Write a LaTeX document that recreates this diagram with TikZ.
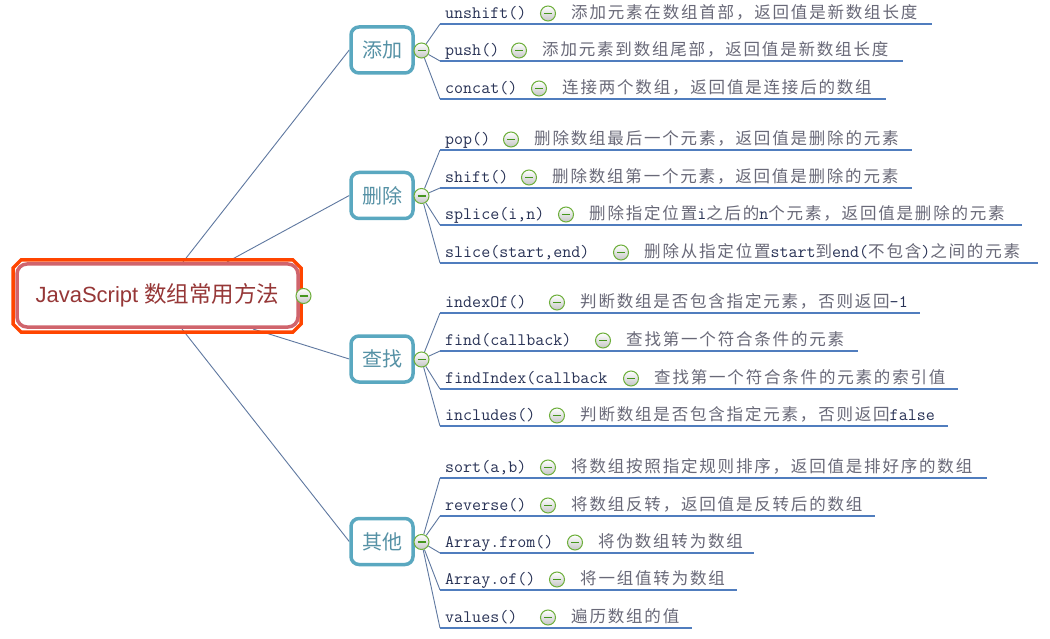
\documentclass[tikz,border=0pt]{standalone}
\usepackage{fontspec}
\setsansfont{Liberation Sans}
\newfontfamily\cjk[LetterSpace=11]{Noto Sans CJK SC}
\newfontfamily\cjkb{Noto Sans CJK SC}
\pgfdeclarelayer{background}
\pgfsetlayers{background,main}
\definecolor{methodcol}{RGB}{40,50,85}
\definecolor{desccol}{RGB}{105,105,120}
\definecolor{ulcol}{RGB}{80,125,190}
\definecolor{conncol}{RGB}{95,120,160}
\definecolor{branchcol}{RGB}{90,168,192}
\definecolor{branchtext}{RGB}{85,145,165}
\definecolor{rootred}{RGB}{208,100,108}
\definecolor{rootorange}{RGB}{255,69,0}
\definecolor{roottext}{RGB}{150,55,55}
\definecolor{dotgreen}{RGB}{110,175,60}
\definecolor{bargreen}{RGB}{70,150,30}
\newcommand\lat[1]{{\color{methodcol}\ttfamily\fontsize{17.5}{18}\selectfont #1}}
\newcommand\leafrow[7]{%
  \coordinate (#1s) at (440,#3);
  \coordinate (#1e) at (#7,#3);
  \node[method, anchor=base west] (#1m) at (445,#3-5.5) {#4};
  \node[minusdot] (#1c) at (#5,#3-10.5) {};
  \node[desc, anchor=base west] (#1d) at (#5+23,#3-5.5) {#6};
  \begin{pgfonlayer}{background}
    \draw[uline] (#1s) -- (#1e);
    \draw[conn] (#2) -- (#1s);
  \end{pgfonlayer}
}
\tikzset{
  method/.style={font=\ttfamily\fontsize{17.5}{18}\selectfont, text=methodcol, inner sep=0pt},
  desc/.style={font=\cjk\fontsize{16.5}{18}\selectfont, text=desccol, inner sep=0pt},
  uline/.style={draw=ulcol, line width=1.2pt},
  conn/.style={draw=conncol, line width=0.9pt},
  minusdot/.style={circle, minimum size=15pt, inner sep=0pt, draw=dotgreen, line width=1pt,
    top color=white, bottom color=gray!45,
    path picture={\draw[bargreen, line width=1.4pt] ([xshift=-4pt]path picture bounding box.center) -- ([xshift=4pt]path picture bounding box.center);}},
  branch/.style={draw=branchcol, line width=3.5pt, rounded corners=8pt, fill=white,
    minimum width=62pt, minimum height=46pt, inner sep=0pt,
    font=\cjkb\fontsize{20}{22}\selectfont, text=branchtext},
  rootbox/.style={draw=rootred, line width=3.5pt, rounded corners=10pt, fill=white,
    minimum width=281pt, minimum height=63pt, inner sep=0pt, text=roottext},
  rootframe/.style={draw=rootorange, line width=3.5pt},
}
\begin{document}
\begin{tikzpicture}[x=1pt,y=-1pt]
\useasboundingbox (0,0) rectangle (1050,639);
\begin{pgfonlayer}{background}
  \fill[white] (0,0) rectangle (1050,639);
\end{pgfonlayer}

% root
\draw[rootframe] (21,260) -- (293,260) -- (301,268) -- (301,324) -- (293,332) -- (21,332) -- (13,324) -- (13,268) -- cycle;
\node[rootbox] (root) at (157.5,295.5) {\fontsize{22}{24}\selectfont\sffamily JavaScript \cjkb\fontsize{22.5}{24}\selectfont 数组常用方法};
\node[minusdot] (rootc) at (303.5,296) {};

% branches
\node[branch] (b1) at (382,50) {添加};
\node[branch] (b2) at (382,195.5) {删除};
\node[branch] (b3) at (382,359) {查找};
\node[branch] (b4) at (382,541.5) {其他};
\node[minusdot] (b1c) at (421.5,50.5) {};
\node[minusdot] (b2c) at (421.5,196) {};
\node[minusdot] (b3c) at (421.5,359.5) {};
\node[minusdot] (b4c) at (421.5,542) {};

\coordinate (r1) at (183,262);
\coordinate (r2) at (227,262);
\coordinate (r3) at (253,329);
\coordinate (r4) at (182,329);
\begin{pgfonlayer}{background}
  \draw[conn] (r1) -- (b1.west);
  \draw[conn] (r2) -- (b2.west);
  \draw[conn] (r3) -- (b3.west);
  \draw[conn] (r4) -- (b4.west);
\end{pgfonlayer}

% leaves
\leafrow{l1}{b1c}{24}{unshift()}{548}{添加元素在数组首部，返回值是新数组长度}{932}
\leafrow{l2}{b1c}{61}{push()}{519}{添加元素到数组尾部，返回值是新数组长度}{903}
\leafrow{l3}{b1c}{99}{concat()}{539}{连接两个数组，返回值是连接后的数组}{886}

\leafrow{l4}{b2c}{150}{pop()}{511}{删除数组最后一个元素，返回值是删除的元素}{912}
\leafrow{l5}{b2c}{188}{shift()}{529}{删除数组第一个元素，返回值是删除的元素}{912}
\leafrow{l6}{b2c}{225}{splice(i,n)}{566}{删除指定位置\lat{i}之后的\lat{n}个元素，返回值是删除的元素}{1022}
\leafrow{l7}{b2c}{263}{slice(start,end)}{621}{删除从指定位置\lat{start}到\lat{end(}不包含\lat{)}之间的元素}{1038}

\leafrow{l8}{b3c}{313}{indexOf()}{557}{判断数组是否包含指定元素，否则返回\lat{-1}}{920}
\leafrow{l9}{b3c}{351}{find(callback)}{603}{查找第一个符合条件的元素}{858}
\leafrow{l10}{b3c}{389}{findIndex(callback}{631}{查找第一个符合条件的元素的索引值}{958}
\leafrow{l11}{b3c}{426}{includes()}{557}{判断数组是否包含指定元素，否则返回\lat{false}}{948}

\leafrow{l12}{b4c}{478}{sort(a,b)}{548}{将数组按照指定规则排序，返回值是排好序的数组}{987}
\leafrow{l13}{b4c}{516}{reverse()}{548}{将数组反转，返回值是反转后的数组}{875}
\leafrow{l14}{b4c}{553}{Array.from()}{575}{将伪数组转为数组}{754}
\leafrow{l15}{b4c}{590}{Array.of()}{557}{将一组值转为数组}{737}
\leafrow{l16}{b4c}{628}{values()}{548}{遍历数组的值}{692}
\end{tikzpicture}
\end{document}
